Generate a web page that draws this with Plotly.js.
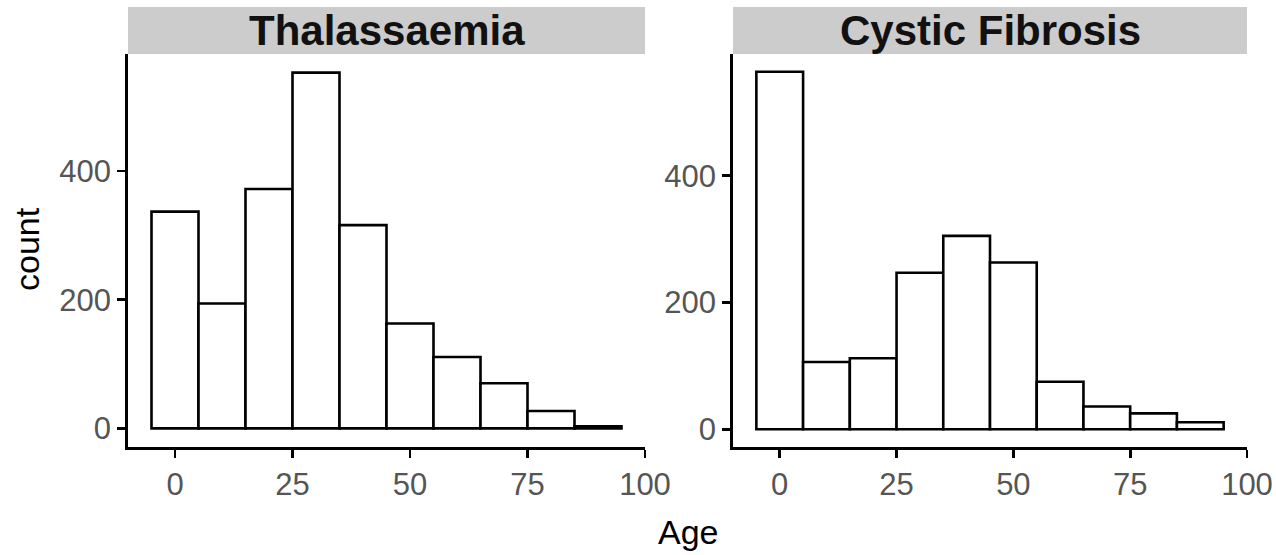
<!DOCTYPE html>
<html>
<head>
<meta charset="utf-8">
<script src="https://cdn.plot.ly/plotly-3.0.1.min.js"></script>
<style>html,body{margin:0;padding:0;background:#fff;}#chart{width:1276px;height:555px;}</style>
</head>
<body>
<div id="chart"></div>
<script>
// Bin centres (age, bin width 10)
const binCenters = [0, 10, 20, 30, 40, 50, 60, 70, 80, 90];
// Counts
const thalCounts = [337, 194, 372, 553, 316, 163, 111, 70, 27, 3];
const cfCounts   = [564, 106, 112, 247, 305, 263, 75, 36, 25, 11];
const panelNames = ["Thalassaemia", "Cystic Fibrosis"];
const xTicks = [0, 25, 50, 75, 100];
const yTicks = [0, 200, 400];

const W = 1276, H = 555;
const fx = v => v / W;
const fy = v => 1 - v / H;

const barStyle = {color: "#ffffff", line: {color: "#000000", width: 2.6}};

const traces = [
  {type: "bar", x: binCenters, y: thalCounts, width: 10, marker: barStyle,
   xaxis: "x", yaxis: "y", showlegend: false, hoverinfo: "x+y"},
  {type: "bar", x: binCenters, y: cfCounts, width: 10, marker: barStyle,
   xaxis: "x2", yaxis: "y2", showlegend: false, hoverinfo: "x+y"}
];

const tickFont = {family: "Liberation Sans, Arial, sans-serif", size: 31, color: "#555555"};
const baseAxis = {
  showline: true, linecolor: "#000000", linewidth: 2.8,
  ticks: "outside", ticklen: 8, tickwidth: 2.8, tickcolor: "#000000",
  showgrid: false, zeroline: false, tickfont: tickFont, automargin: false,
  fixedrange: true
};

const yTop = 54, yBot = 447;
const xL = [128, 645], xR = [733, 1247];

const layout = {
  width: W, height: H,
  margin: {l: 0, r: 0, t: 0, b: 0},
  paper_bgcolor: "#ffffff", plot_bgcolor: "#ffffff",
  bargap: 0,
  font: {family: "Liberation Sans, Arial, sans-serif"},
  xaxis: Object.assign({}, baseAxis, {domain: [fx(xL[0]), fx(xL[1])], range: [-10, 100],
    tickvals: xTicks, ticktext: xTicks.map(String), anchor: "y"}),
  yaxis: Object.assign({}, baseAxis, {domain: [fy(yBot), fy(yTop)], range: [-29, 582],
    tickvals: yTicks, ticktext: yTicks.map(String), anchor: "x"}),
  xaxis2: Object.assign({}, baseAxis, {domain: [fx(xR[0]), fx(xR[1])], range: [-10, 100],
    tickvals: xTicks, ticktext: xTicks.map(String), anchor: "y2"}),
  yaxis2: Object.assign({}, baseAxis, {domain: [fy(yBot), fy(yTop)], range: [-28, 592],
    tickvals: yTicks, ticktext: yTicks.map(String), anchor: "x2"}),
  shapes: [
    {type: "rect", xref: "paper", yref: "paper", x0: fx(xL[0]), x1: fx(xL[1]), y0: fy(54), y1: fy(7),
     fillcolor: "#cccccc", line: {width: 0}, layer: "below"},
    {type: "rect", xref: "paper", yref: "paper", x0: fx(xR[0]), x1: fx(xR[1]), y0: fy(54), y1: fy(7),
     fillcolor: "#cccccc", line: {width: 0}, layer: "below"}
  ],
  annotations: [
    {text: "<b>" + panelNames[0] + "</b>", xref: "paper", yref: "paper", x: fx((xL[0] + xL[1]) / 2), y: fy(30),
     xanchor: "center", yanchor: "middle", showarrow: false,
     font: {family: "Liberation Sans, Arial, sans-serif", size: 42, color: "#111111"}},
    {text: "<b>" + panelNames[1] + "</b>", xref: "paper", yref: "paper", x: fx((xR[0] + xR[1]) / 2), y: fy(30),
     xanchor: "center", yanchor: "middle", showarrow: false,
     font: {family: "Liberation Sans, Arial, sans-serif", size: 42, color: "#111111"}},
    {text: "Age", xref: "paper", yref: "paper", x: fx(688), y: fy(532),
     xanchor: "center", yanchor: "middle", showarrow: false,
     font: {family: "Liberation Sans, Arial, sans-serif", size: 34, color: "#000000"}},
    {text: "count", xref: "paper", yref: "paper", x: fx(27), y: fy(249), textangle: -90,
     xanchor: "center", yanchor: "middle", showarrow: false,
     font: {family: "Liberation Sans, Arial, sans-serif", size: 34, color: "#000000"}}
  ]
};

Plotly.newPlot("chart", traces, layout, {displayModeBar: false, staticPlot: true});
</script>
</body>
</html>
